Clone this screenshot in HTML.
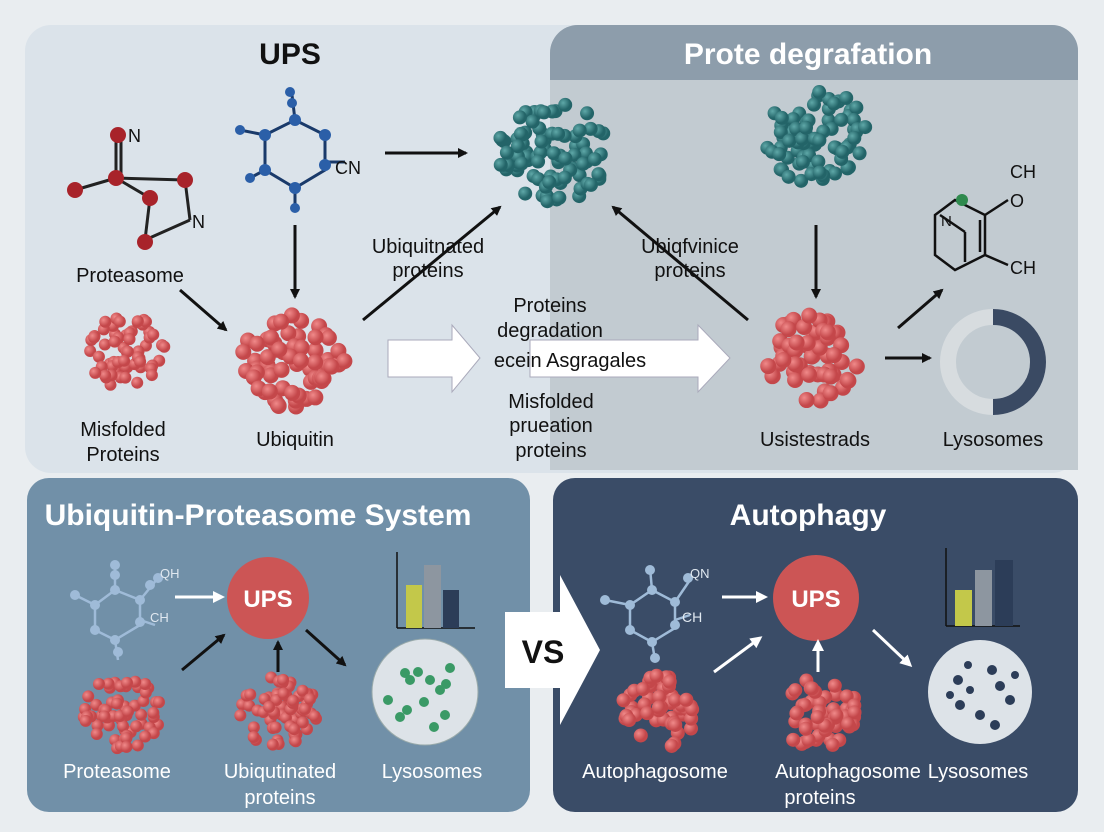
<!DOCTYPE html>
<html><head><meta charset="utf-8"><style>
html,body{margin:0;padding:0;width:1104px;height:832px;overflow:hidden;background:#e9edf0}
svg{display:block}
text{font-family:"Liberation Sans",sans-serif}
</style></head><body>
<svg id="s" width="1104" height="832" viewBox="0 0 1104 832" xmlns="http://www.w3.org/2000/svg">
<defs>
<marker id="ab" markerWidth="10" markerHeight="10" refX="8" refY="5" orient="auto" markerUnits="userSpaceOnUse"><path d="M0,0 L10,5 L0,10 z" fill="#111"/></marker>
<marker id="aw" markerWidth="12" markerHeight="12" refX="9" refY="6" orient="auto" markerUnits="userSpaceOnUse"><path d="M0,0 L12,6 L0,12 z" fill="#fff"/></marker>
<radialGradient id="gr" cx="35%" cy="35%"><stop offset="0" stop-color="#f08a8a"/><stop offset="1" stop-color="#c4474a"/></radialGradient>
<radialGradient id="gt" cx="35%" cy="35%"><stop offset="0" stop-color="#5fa8a8"/><stop offset="1" stop-color="#236468"/></radialGradient>
</defs>
<rect x="0" y="0" width="1104" height="832" fill="#e9edf0"/>
<rect x="25" y="25" width="1053" height="448" rx="26" fill="#dbe3ea"/>
<path d="M578,25 H1052 A26,26 0 0 1 1078,51 V470 H550 V53 A28,28 0 0 1 578,25z" fill="#c2cbd1"/>
<path d="M578,25 H1052 A26,26 0 0 1 1078,51 V80 H550 V53 A28,28 0 0 1 578,25z" fill="#8d9dab"/>
<text x="808" y="64" font-size="30" font-weight="bold" fill="#fff" text-anchor="middle">Prote degrafation</text>
<text x="290" y="64" font-size="30" font-weight="bold" fill="#111" text-anchor="middle">UPS</text>

<rect x="27" y="478" width="503" height="334" rx="22" fill="#7190a8"/>
<rect x="553" y="478" width="525" height="334" rx="22" fill="#3a4c67"/>
<text x="258" y="525" font-size="30" font-weight="bold" fill="#fff" text-anchor="middle">Ubiquitin-Proteasome System</text>
<text x="808" y="525" font-size="30" font-weight="bold" fill="#fff" text-anchor="middle">Autophagy</text>

<!-- VS arrow -->
<path d="M505,612 H560 V575 L600,650 L560,725 V688 H505 z" fill="#fff"/>
<text x="543" y="663" font-size="32" font-weight="bold" fill="#111" text-anchor="middle">VS</text>

<!-- big white arrows -->
<path d="M388,340 H452 V325 L480,358 L452,392 V377 H388z" fill="#fff" stroke="#aab" stroke-width="1"/>
<path d="M530,340 H698 V325 L730,358 L698,392 V377 H530z" fill="#fff" stroke="#aab" stroke-width="1"/>

<g id="cl"></g>

<!-- top left molecule -->
<g stroke="#222" stroke-width="3" fill="none">
<line x1="116" y1="138" x2="116" y2="178"/><line x1="121" y1="138" x2="121" y2="178"/>
<line x1="116" y1="178" x2="75" y2="190"/><line x1="116" y1="178" x2="150" y2="198"/>
<line x1="116" y1="178" x2="185" y2="180"/><line x1="150" y1="198" x2="145" y2="240"/>
<line x1="145" y1="240" x2="190" y2="220"/><line x1="185" y1="180" x2="190" y2="220"/>
</g>
<g fill="#a8232a"><circle cx="118" cy="135" r="8"/><circle cx="75" cy="190" r="8"/><circle cx="116" cy="178" r="8"/><circle cx="150" cy="198" r="8"/><circle cx="185" cy="180" r="8"/><circle cx="145" cy="242" r="8"/></g>
<text x="128" y="142" font-size="18" fill="#111">N</text><text x="192" y="228" font-size="18" fill="#111">N</text>

<!-- blue molecule top -->
<g stroke="#1a3a6a" stroke-width="3"><path d="M265,135 L295,120 L325,135 L325,170 L295,188 L265,170z" fill="none"/>
<line x1="295" y1="120" x2="292" y2="95"/><line x1="325" y1="162" x2="345" y2="162"/><line x1="265" y1="135" x2="240" y2="130"/><line x1="295" y1="188" x2="295" y2="208"/><line x1="265" y1="170" x2="250" y2="178"/></g>
<g fill="#2b5fa8"><circle cx="295" cy="120" r="6"/><circle cx="325" cy="135" r="6"/><circle cx="325" cy="165" r="6"/><circle cx="295" cy="188" r="6"/><circle cx="265" cy="170" r="6"/><circle cx="265" cy="135" r="6"/><circle cx="292" cy="103" r="5"/><circle cx="290" cy="92" r="5"/><circle cx="240" cy="130" r="5"/><circle cx="295" cy="208" r="5"/><circle cx="250" cy="178" r="5"/></g>
<text x="335" y="174" font-size="18" fill="#111">CN</text>

<!-- top arrows -->
<g stroke="#111" stroke-width="3" marker-end="url(#ab)" fill="none">
<line x1="385" y1="153" x2="466" y2="153"/>
<line x1="295" y1="225" x2="295" y2="297"/>
<line x1="180" y1="290" x2="226" y2="330"/>
<line x1="363" y1="320" x2="500" y2="207"/>
<line x1="748" y1="320" x2="613" y2="207"/>
<line x1="816" y1="225" x2="816" y2="297"/>
<line x1="898" y1="328" x2="942" y2="290"/>
<line x1="885" y1="358" x2="930" y2="358"/>
</g>
<!-- right molecule -->
<g stroke="#111" stroke-width="2.5" fill="none"><path d="M955,200 L985,215 L985,255 L955,270 L935,255 L935,215z"/><line x1="980" y1="220" x2="980" y2="252"/><line x1="985" y1="215" x2="1008" y2="200"/><line x1="985" y1="255" x2="1008" y2="265"/><line x1="940" y1="215" x2="965" y2="232"/><line x1="965" y1="232" x2="965" y2="262"/></g>
<circle cx="962" cy="200" r="6" fill="#2f8a4e"/>
<text x="941" y="226" font-size="15" fill="#111">N</text>
<text x="1010" y="178" font-size="18" fill="#111">CH</text><text x="1010" y="207" font-size="18" fill="#111">O</text><text x="1010" y="274" font-size="18" fill="#111">CH</text>
<!-- donut -->
<circle cx="993" cy="362" r="45" fill="none" stroke="#d7dcdf" stroke-width="16"/>
<path d="M993,317 A45,45 0 0 1 993,407" fill="none" stroke="#3a4a63" stroke-width="16"/>

<!-- top labels -->
<g font-size="20" fill="#111" text-anchor="middle">
<text x="130" y="282">Proteasome</text>
<text x="123" y="436">Misfolded</text><text x="123" y="461">Proteins</text>
<text x="295" y="446">Ubiquitin</text>
<text x="428" y="253">Ubiquitnated</text><text x="428" y="277">proteins</text>
<text x="690" y="253">Ubiqfvinice</text><text x="690" y="277">proteins</text>
<text x="550" y="312">Proteins</text><text x="550" y="337">degradation</text><text x="570" y="367">ecein Asgragales</text>
<text x="551" y="408">Misfolded</text><text x="551" y="432">prueation</text><text x="551" y="457">proteins</text>
<text x="815" y="446">Usistestrads</text><text x="993" y="446">Lysosomes</text>
</g>

<!-- bottom-left -->
<g stroke="#9fbbd8" stroke-width="2.5" fill="none"><path d="M95,605 L115,590 L140,600 L140,625 L115,640 L95,630z"/><line x1="115" y1="590" x2="115" y2="565"/><line x1="140" y1="600" x2="158" y2="578"/><line x1="140" y1="620" x2="155" y2="625"/><line x1="95" y1="605" x2="75" y2="595"/><line x1="115" y1="640" x2="118" y2="660"/></g>
<g fill="#9fbbd8"><circle cx="115" cy="590" r="5"/><circle cx="140" cy="600" r="5"/><circle cx="140" cy="622" r="5"/><circle cx="115" cy="640" r="5"/><circle cx="95" cy="630" r="5"/><circle cx="95" cy="605" r="5"/><circle cx="115" cy="575" r="5"/><circle cx="115" cy="565" r="5"/><circle cx="150" cy="585" r="5"/><circle cx="158" cy="578" r="5"/><circle cx="75" cy="595" r="5"/><circle cx="118" cy="652" r="5"/></g>
<text x="160" y="578" font-size="13" fill="#e0e8f0">QH</text><text x="150" y="622" font-size="13" fill="#e0e8f0">CH</text>
<circle cx="268" cy="598" r="41" fill="#cc5555"/>
<text x="268" y="607" font-size="24" font-weight="bold" fill="#fff" text-anchor="middle">UPS</text>
<g stroke="#111" stroke-width="1.5"><line x1="397" y1="552" x2="397" y2="628"/><line x1="397" y1="628" x2="475" y2="628"/></g>
<rect x="406" y="585" width="16" height="43" fill="#c3c84a"/><rect x="424" y="565" width="17" height="63" fill="#8d96a0"/><rect x="443" y="590" width="16" height="38" fill="#2c3d58"/>
<circle cx="425" cy="692" r="53" fill="#dde3e8" stroke="#9aa" stroke-width="1"/>
<g fill="#3a9a66"><circle cx="410" cy="680" r="5"/><circle cx="405" cy="673" r="5"/><circle cx="418" cy="672" r="5"/><circle cx="430" cy="680" r="5"/><circle cx="440" cy="690" r="5"/><circle cx="446" cy="684" r="5"/><circle cx="445" cy="715" r="5"/><circle cx="407" cy="710" r="5"/><circle cx="400" cy="717" r="5"/><circle cx="434" cy="727" r="5"/><circle cx="450" cy="668" r="5"/><circle cx="388" cy="700" r="5"/><circle cx="424" cy="702" r="5"/></g>
<g stroke="#fff" stroke-width="3" fill="none" marker-end="url(#aw)"><line x1="175" y1="597" x2="222" y2="597"/></g>
<g stroke="#111" stroke-width="3" fill="none" marker-end="url(#ab)">
<line x1="182" y1="670" x2="224" y2="635"/><line x1="278" y1="672" x2="278" y2="642"/><line x1="306" y1="630" x2="345" y2="665"/></g>
<g font-size="20" fill="#fff" text-anchor="middle">
<text x="117" y="778">Proteasome</text><text x="280" y="778">Ubiqutinated</text><text x="280" y="804">proteins</text><text x="432" y="778">Lysosomes</text>
<text x="655" y="778">Autophagosome</text><text x="848" y="778">Autophagosome</text><text x="820" y="804">proteins</text><text x="978" y="778">Lysosomes</text>
</g>

<!-- bottom-right -->
<g stroke="#9fbbd8" stroke-width="2.5" fill="none"><path d="M630,605 L652,590 L675,602 L675,628 L652,642 L630,630z"/><line x1="652" y1="590" x2="650" y2="568"/><line x1="675" y1="602" x2="690" y2="580"/><line x1="675" y1="620" x2="690" y2="615"/><line x1="630" y1="605" x2="605" y2="600"/><line x1="652" y1="642" x2="655" y2="660"/></g>
<g fill="#9fbbd8"><circle cx="652" cy="590" r="5"/><circle cx="675" cy="602" r="5"/><circle cx="675" cy="625" r="5"/><circle cx="652" cy="642" r="5"/><circle cx="630" cy="630" r="5"/><circle cx="630" cy="605" r="5"/><circle cx="650" cy="570" r="5"/><circle cx="688" cy="578" r="5"/><circle cx="605" cy="600" r="5"/><circle cx="655" cy="658" r="5"/></g>
<text x="690" y="578" font-size="13" fill="#e0e8f0">QN</text><text x="682" y="622" font-size="14" fill="#e0e8f0">CH</text>
<circle cx="816" cy="598" r="43" fill="#cc5555"/>
<text x="816" y="607" font-size="24" font-weight="bold" fill="#fff" text-anchor="middle">UPS</text>
<g stroke="#111" stroke-width="1.5"><line x1="946" y1="548" x2="946" y2="626"/><line x1="946" y1="626" x2="1020" y2="626"/></g>
<rect x="955" y="590" width="17" height="36" fill="#c3c84a"/><rect x="975" y="570" width="17" height="56" fill="#8d96a0"/><rect x="995" y="560" width="18" height="66" fill="#2c3d58"/>
<circle cx="980" cy="692" r="52" fill="#dde3e8"/>
<g fill="#2c3d58"><circle cx="958" cy="680" r="5"/><circle cx="968" cy="665" r="4"/><circle cx="992" cy="670" r="5"/><circle cx="1000" cy="686" r="5"/><circle cx="1010" cy="700" r="5"/><circle cx="960" cy="705" r="5"/><circle cx="980" cy="715" r="5"/><circle cx="995" cy="725" r="5"/><circle cx="950" cy="695" r="4"/><circle cx="1015" cy="675" r="4"/><circle cx="970" cy="690" r="4"/></g>
<g stroke="#fff" stroke-width="3" fill="none" marker-end="url(#aw)">
<line x1="722" y1="597" x2="765" y2="597"/><line x1="714" y1="672" x2="760" y2="638"/><line x1="818" y1="672" x2="818" y2="642"/><line x1="873" y1="630" x2="910" y2="665"/></g>
</svg>
<script>
(function(){
var g=document.getElementById('cl'),ns='http://www.w3.org/2000/svg';
var seed=7;function r(){seed=(seed*9301+49297)%233280;return seed/233280;}
function cl(cx,cy,R,n,rad,fill){for(var i=0;i<n;i++){var a=r()*6.283,d=Math.sqrt(r())*R;var c=document.createElementNS(ns,'circle');c.setAttribute('cx',cx+Math.cos(a)*d);c.setAttribute('cy',cy+Math.sin(a)*d*0.92);c.setAttribute('r',rad);c.setAttribute('fill',fill);g.appendChild(c);}}
cl(553,152,55,90,7,'url(#gt)');
cl(818,138,52,80,7,'url(#gt)');
cl(293,360,52,70,8,'url(#gr)');
cl(125,352,40,60,6,'url(#gr)');
cl(814,358,48,55,8,'url(#gr)');
cl(123,712,40,65,6,'url(#gr)');
cl(278,712,40,65,6,'url(#gr)');
cl(660,712,40,55,7,'url(#gr)');
cl(818,712,40,55,7,'url(#gr)');
})();
</script>
</body></html>
